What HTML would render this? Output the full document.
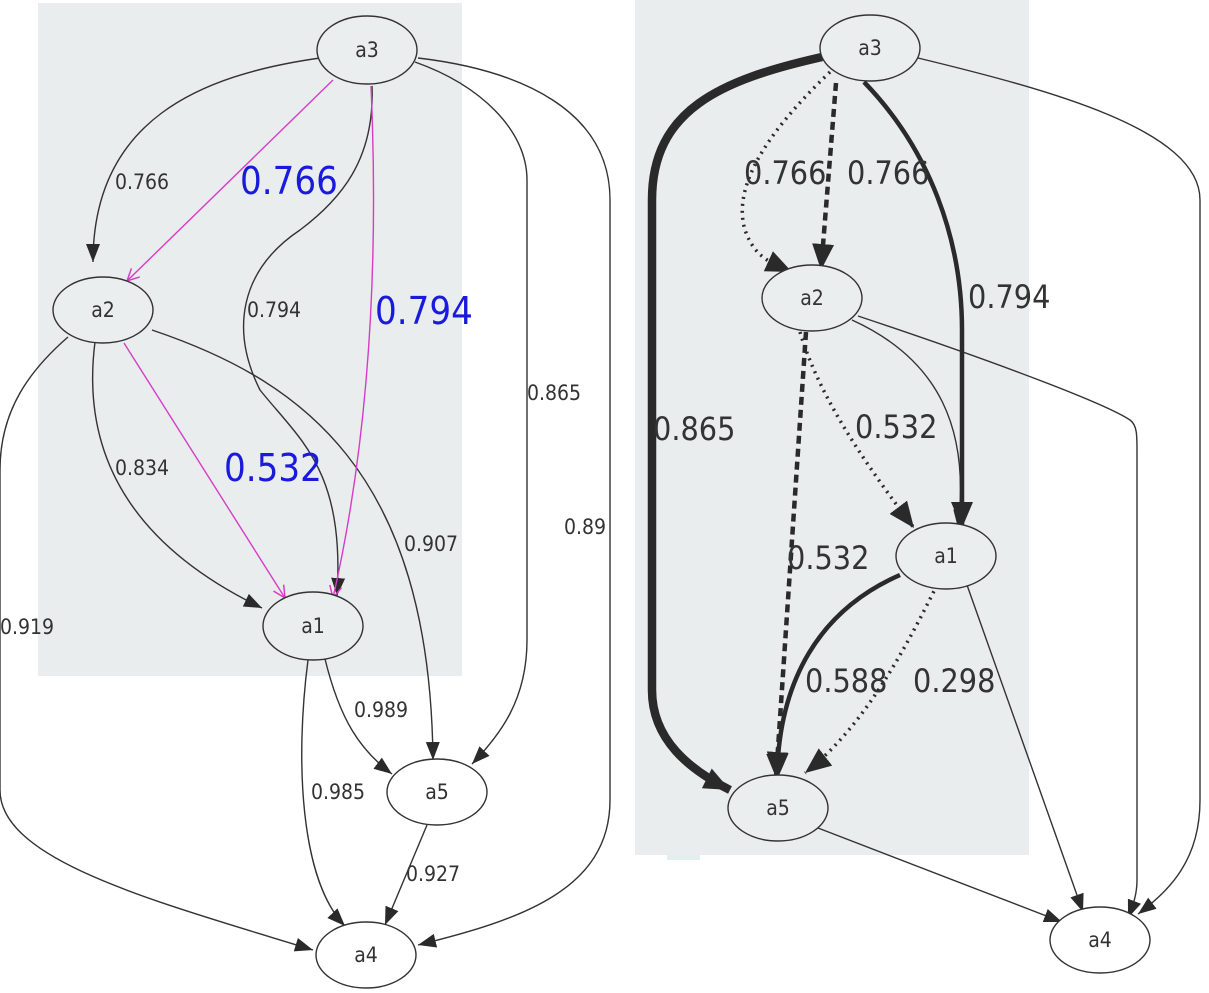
<!DOCTYPE html>
<html><head><meta charset="utf-8"><style>
html,body{margin:0;padding:0;background:#fff;}
svg{display:block;}
text{font-family:"Liberation Sans Narrow","DejaVu Sans Condensed","Liberation Sans",sans-serif;fill:#333;}
</style></head><body>
<svg width="1209" height="993" viewBox="0 0 1209 993" xmlns="http://www.w3.org/2000/svg">
<defs>
<marker id="ar" markerUnits="userSpaceOnUse" markerWidth="20" markerHeight="20" viewBox="0 0 20 20" refX="18" refY="10" orient="auto"><path d="M0,3 L18,10 L0,17 z" fill="#2a2a2a"/></marker>
<marker id="arB" markerUnits="userSpaceOnUse" markerWidth="28" markerHeight="28" viewBox="0 0 28 28" refX="26" refY="14" orient="auto"><path d="M0,3 L26,14 L0,25 z" fill="#2a2a2a"/></marker>
<marker id="am" markerUnits="userSpaceOnUse" markerWidth="16" markerHeight="16" viewBox="0 0 16 16" refX="14" refY="8" orient="auto"><path d="M2,2 L14,8 L2,14" fill="none" stroke="#d63cc8" stroke-width="1.5"/></marker>
</defs>
<rect x="38" y="3" width="424" height="673" fill="#e9eded"/>
<rect x="635" y="0" width="394" height="855" fill="#e9eded"/>
<rect x="667" y="855" width="33" height="5" fill="#e3eeee"/>

<g fill="none" stroke="#333" stroke-width="1.4">
<path d="M320,58 C200,75 93,120 93,262" marker-end="url(#ar)"/>
<path d="M372,86 C375,160 340,200 300,230 C240,270 230,330 260,390 C300,440 345,470 337,596" marker-end="url(#ar)"/>
<path d="M415,62 C480,85 527,130 527,180 L527,640 C527,700 500,735 472,764" marker-end="url(#ar)"/>
<path d="M418,58 C520,70 610,110 610,200 L610,800 C610,890 520,920 418,945" marker-end="url(#ar)"/>
<path d="M68,337 C30,370 0,410 0,470 L0,790 C0,860 150,900 313,950" marker-end="url(#ar)"/>
<path d="M95,342 C85,420 100,530 262,608" marker-end="url(#ar)"/>
<path d="M152,330 C300,380 430,470 433,760" marker-end="url(#ar)"/>
<path d="M325,659 C340,720 360,750 392,774" marker-end="url(#ar)"/>
<path d="M308,660 C295,760 300,880 345,926" marker-end="url(#ar)"/>
<path d="M427,825 L385,925" marker-end="url(#ar)"/>
<path d="M918,58 C1050,90 1200,130 1200,200 L1200,800 C1200,860 1170,890 1138,914" marker-end="url(#ar)"/>
<path d="M858,316 C960,350 1100,400 1130,420 C1137,425 1137,435 1137,450 L1137,880 C1137,895 1133,905 1128,918" marker-end="url(#ar)"/>
<path d="M852,320 C940,360 970,430 958,528" marker-end="url(#ar)"/>
<path d="M967,585 L1083,912" marker-end="url(#ar)"/>
<path d="M818,828 L1062,922" marker-end="url(#ar)"/>
</g>
<g fill="none" stroke="#2a2a2a">
<path d="M822,57 C720,80 652,110 652,200 L652,690 C652,740 690,770 730,790" stroke-width="8.5" marker-end="url(#arB)"/>
<path d="M864,82 C930,150 962,240 962,330 L962,528" stroke-width="4.5" marker-end="url(#arB)"/>
<path d="M830,72 C780,120 730,180 745,230 C755,258 770,262 792,272" stroke-width="3.5" stroke-dasharray="2,5" marker-end="url(#arB)"/>
<path d="M836,83 L821,270" stroke-width="4.5" stroke-dasharray="8,5" marker-end="url(#arB)"/>
<path d="M800,332 C820,400 870,470 914,528" stroke-width="3.5" stroke-dasharray="2,5" marker-end="url(#arB)"/>
<path d="M806,332 L776,778" stroke-width="4.5" stroke-dasharray="8,5" marker-end="url(#arB)"/>
<path d="M900,575 C820,610 778,680 777,780" stroke-width="4.5" marker-end="url(#arB)"/>
<path d="M937,585 C900,660 860,730 805,773" stroke-width="3.5" stroke-dasharray="2,5" marker-end="url(#arB)"/>
</g>
<g fill="none" stroke="#d63cc8" stroke-width="1.4">
<path d="M333,80 L127,281" marker-end="url(#am)"/>
<path d="M371,86 C376,200 378,400 333,598" marker-end="url(#am)"/>
<path d="M124,343 L285,598" marker-end="url(#am)"/>
</g>

<g fill="#eaeeee" stroke="#333" stroke-width="1.4">
<ellipse cx="367" cy="50" rx="50" ry="34"/>
<ellipse cx="103" cy="310" rx="50" ry="33"/>
<ellipse cx="313" cy="626" rx="50" ry="34"/>
<ellipse cx="437" cy="792" rx="50" ry="33" fill="#fff"/>
<ellipse cx="366" cy="955" rx="50" ry="33" fill="#fff"/>
<ellipse cx="870" cy="48" rx="50" ry="33"/>
<ellipse cx="812" cy="298" rx="50" ry="33"/>
<ellipse cx="946" cy="556" rx="50" ry="33"/>
<ellipse cx="778" cy="808" rx="50" ry="33"/>
<ellipse cx="1100" cy="940" rx="50" ry="33" fill="#fff"/>
</g>

<g font-size="21" text-anchor="middle">
<text x="367" y="57">a3</text><text x="103" y="317">a2</text><text x="313" y="633">a1</text>
<text x="437" y="799">a5</text><text x="366" y="962">a4</text>
<text x="870" y="55">a3</text><text x="812" y="305">a2</text><text x="946" y="563">a1</text>
<text x="778" y="815">a5</text><text x="1100" y="947">a4</text>
</g>
<g font-size="21">
<text x="115" y="189">0.766</text>
<text x="247" y="317">0.794</text>
<text x="527" y="400">0.865</text>
<text x="564" y="534">0.89</text>
<text x="0" y="634">0.919</text>
<text x="115" y="475">0.834</text>
<text x="404" y="551">0.907</text>
<text x="354" y="717">0.989</text>
<text x="311" y="799">0.985</text>
<text x="406" y="881">0.927</text>
</g>
<g font-size="38">
<text x="240" y="194" style="fill:#1a1adc">0.766</text>
<text x="375" y="324" style="fill:#1a1adc">0.794</text>
<text x="224" y="481" style="fill:#1a1adc">0.532</text>
</g>
<g font-size="32">
<text x="744" y="184">0.766</text>
<text x="847" y="184">0.766</text>
<text x="968" y="308">0.794</text>
<text x="653" y="440">0.865</text>
<text x="855" y="438">0.532</text>
<text x="787" y="569">0.532</text>
<text x="805" y="692">0.588</text>
<text x="913" y="692">0.298</text>
</g>
</svg>
</body></html>
